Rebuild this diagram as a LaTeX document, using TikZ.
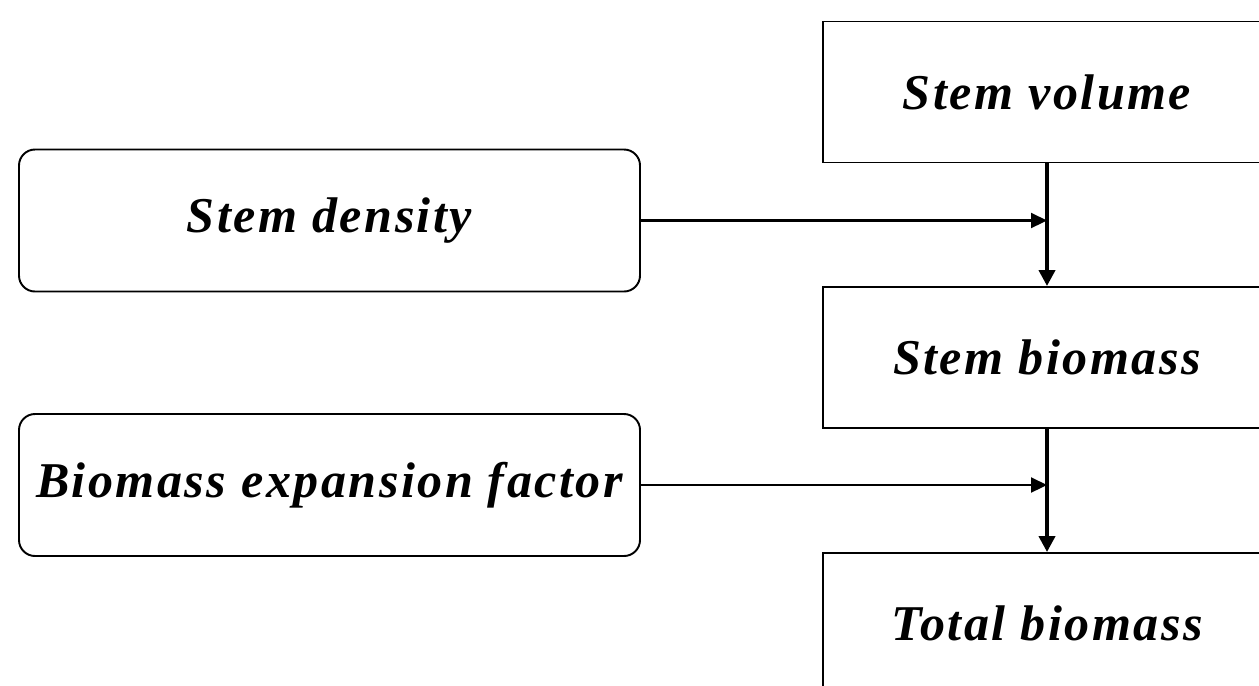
\documentclass[tikz,border=0pt]{standalone}
\usepackage{fontspec}
\setmainfont{Liberation Serif}
\newfontfamily\boxfont[LetterSpace=5]{Liberation Serif}
\usetikzlibrary{arrows.meta}

\begin{document}
\begin{tikzpicture}[
        flowbox/.style={draw, line width=1.1pt, minimum width=8.96cm, minimum height=2.82cm},
        inputbox/.style={draw, line width=1.1pt, rounded corners=0.32cm, minimum width=12.42cm, minimum height=2.84cm},
        every node/.style={font=\boxfont\fontsize{28.5}{34}\selectfont\bfseries\itshape},
        feed/.style={line width=1.2pt, -{Triangle[length=0.32cm, width=0.3cm]}},
        flow/.style={line width=2.2pt, -{Triangle[length=0.32cm, width=0.32cm]}}
    ]
        \clip (0, 0) rectangle (25.18, -13.70);
        \useasboundingbox (0, 0) rectangle (25.18, -13.70);

        \node[flowbox] (vol) at (20.94, -1.84) {Stem volume};
        \node[flowbox] (stem) at (20.94, -7.15) {Stem biomass};
        \node[flowbox] (total) at (20.94, -12.47) {Total biomass};
        \node[inputbox] (dens) at (6.59, -4.41) {Stem density};
        \node[inputbox] (bef) at (6.59, -9.70) {Biomass expansion factor};

        \draw[flow] (vol) -- (stem);
        \draw[flow] (stem) -- (total);
        \draw[feed] (dens) -- (dens -| vol.south);
        \draw[feed] (bef) -- (bef -| stem.south);
\end{tikzpicture}
\end{document}
